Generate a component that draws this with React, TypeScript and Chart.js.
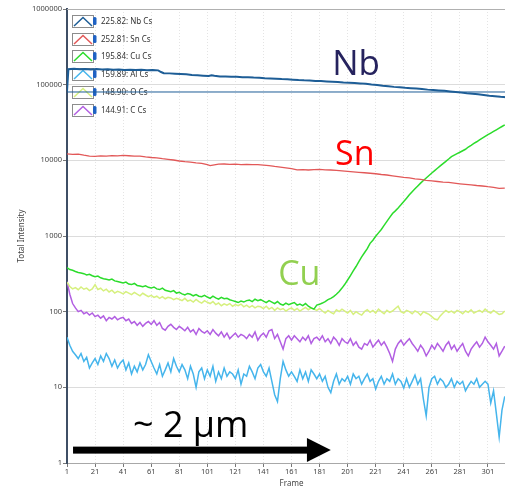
import React, { useEffect, useRef } from "react";
import { Chart, registerables } from "chart.js";
Chart.register(...registerables);

// ---------- DATA ----------
const FINE_START = 1;
const FINE_STEP = 2;

const CU_VALUES = [
  382, 360, 352, 340, 330, 325, 318, 305, 312, 298,
  290, 295, 280, 272, 268, 262, 270, 255, 250, 245,
  240, 246, 232, 228, 236, 222, 218, 214, 220, 210,
  205, 212, 200, 196, 205, 192, 188, 184, 190, 176,
  180, 172, 166, 174, 170, 162, 168, 160, 158, 164,
  156, 150, 160, 152, 146, 155, 148, 150, 144, 140,
  136, 132, 138, 134, 140, 142, 136, 146, 140, 144,
  138, 132, 140, 134, 128, 136, 126, 122, 130, 124,
  128, 132, 122, 126, 120, 128, 118, 112, 108, 122,
  125, 130, 136, 144, 150, 158, 170, 185, 205, 230,
  262, 300, 345, 395, 460, 530, 600, 680, 800, 880,
  990, 1100, 1220, 1380, 1560, 1760, 1980, 2150, 2350, 2580,
  2850, 3150, 3500, 3850, 4200, 4580, 5000, 5420, 5850, 6300,
  6800, 7300, 7850, 8450, 9050, 9700, 10400, 11200, 11700, 12250,
  12800, 13400, 14000, 15000, 15800, 16700, 17600, 18600, 19600, 20700,
  21800, 22900, 24100, 25300, 26600, 28000, 29500,
];

const O_VALUES = [
  245, 215, 200, 208, 195, 212, 198, 205, 190, 200,
  228, 196, 204, 188, 198, 182, 192, 176, 186, 180,
  172, 184, 176, 168, 180, 170, 162, 175, 166, 158,
  164, 154, 160, 150, 158, 148, 155, 152, 144, 150,
  146, 140, 150, 138, 142, 134, 145, 136, 130, 140,
  133, 128, 136, 124, 130, 120, 127, 122, 128, 118,
  124, 120, 126, 116, 122, 114, 120, 112, 118, 116,
  110, 118, 108, 114, 104, 112, 106, 110, 102, 108,
  112, 104, 110, 102, 108, 114, 106, 112, 108, 104,
  110, 102, 96, 104, 98, 94, 106, 100, 108, 102,
  96, 104, 92, 100, 94, 90, 100, 106, 98, 104,
  96, 108, 100, 94, 104, 98, 102, 110, 118, 100,
  96, 104, 100, 94, 102, 98, 90, 100, 96, 92,
  86, 80, 78, 88, 96, 104, 98, 102, 96, 104,
  100, 94, 102, 98, 106, 96, 100, 104, 98, 108,
  100, 96, 104, 98, 92, 94, 102,
];

const C_VALUES = [
  250, 170, 128, 112, 100, 104, 94, 98, 90, 96,
  86, 90, 82, 88, 76, 84, 80, 86, 78, 82,
  84, 76, 80, 70, 74, 66, 72, 64, 70, 74,
  68, 76, 66, 72, 60, 57, 64, 68, 62, 58,
  64, 60, 56, 62, 54, 58, 50, 60, 55, 52,
  56, 50, 58, 52, 48, 54, 46, 52, 44, 48,
  52, 46, 50, 48, 44, 50, 46, 54, 42, 48,
  52, 46, 56, 58, 44, 50, 40, 32, 44, 48,
  42, 48, 44, 40, 46, 42, 48, 38, 44, 46,
  42, 48, 40, 44, 38, 46, 42, 36, 44, 40,
  38, 44, 36, 40, 34, 32, 38, 36, 42, 34,
  38, 42, 36, 40, 34, 28, 22, 32, 38, 42,
  36, 40, 44, 38, 34, 30, 36, 32, 26, 30,
  36, 32, 38, 34, 30, 36, 40, 32, 36, 30,
  34, 38, 30, 26, 32, 36, 40, 34, 38, 46,
  40, 36, 32, 38, 26, 30, 35,
];

const AL_VALUES = [
  46, 36, 30, 27, 24, 28, 22, 25, 18, 21,
  24, 20, 26, 22, 28, 24, 19, 23, 18, 21,
  23, 17, 21, 15, 19, 16, 21, 17, 20, 27,
  22, 18, 15, 20, 14, 17, 21, 16, 24, 19,
  16, 20, 17, 13, 19, 15, 10, 16, 18, 13,
  17, 14, 19, 12, 16, 13, 18, 14, 16, 15,
  13, 17, 11, 15, 14, 19, 16, 13, 18, 20,
  16, 14, 18, 12, 8, 6.5, 13, 22, 17, 14,
  16, 14, 12, 17, 13, 16, 12, 17, 15, 13,
  15, 12, 14, 10, 8.5, 12, 15, 11, 13, 12,
  14, 11, 15, 13, 14, 11, 13, 15, 12, 13,
  9.5, 12, 14, 11, 13, 12, 15, 11, 13, 12,
  9.8, 13, 10, 12, 14.5, 11, 13, 7, 4.2, 10,
  13, 14, 11, 13, 12, 10, 11, 13, 10, 12,
  11, 12, 9, 10.5, 12, 11, 13, 10, 11, 12,
  11, 6.2, 9, 4.5, 2.2, 5, 7.6,
];

const FINE_FRAMES = CU_VALUES.map((_, i) => FINE_START + FINE_STEP * i);

const NB_FRAMES = [
  1, 2, 6, 10, 14, 18, 22, 26, 30, 34, 38, 42, 46, 50, 54, 58, 62, 66, 68, 70,
  74, 78, 82, 86, 90, 94, 98, 102, 104, 106,
  110, 114, 118, 122, 126, 130, 134, 138, 142, 146,
  150, 154, 158, 162, 166, 170, 174, 178, 182, 186,
  190, 194, 198, 202, 206, 210, 214, 218, 222, 226,
  230, 234, 238, 242, 246, 250, 254, 258, 262, 266,
  270, 274, 278, 282, 286, 290, 294, 298, 302, 306,
  310, 314,
];
const NB_VALUES = [
  82000, 160000, 162000, 160000, 161500, 159000, 160500, 158500, 160000, 157000, 158500, 156500, 157500, 156000, 157000, 155000, 156000, 154500, 147000, 142000,
  141000, 139500, 138500, 137000, 134500, 133000, 131500, 130500, 133500, 131000,
  128500, 128000, 127000, 127500, 125500, 125000, 124000, 123500, 122000, 121000,
  120000, 118500, 117500, 116500, 115000, 114000, 113500, 112000, 111500, 110500,
  109500, 108500, 107000, 106000, 105000, 104000, 102500, 100500, 99000, 97000,
  95500, 93500, 92500, 91000, 90000, 89000, 87500, 86000, 85000, 84000,
  83000, 81500, 80000, 78500, 77000, 76000, 74500, 73000, 71500, 70500,
  69000, 68000,
];

const SN_FRAMES = [
  1, 5, 9, 13, 17, 21, 25, 29, 33, 37, 41, 45, 49, 53, 57, 61, 65, 69, 73, 77,
  81, 85, 89, 93, 97, 101, 103, 105,
  109, 113, 117, 121, 125, 129, 133, 137, 141, 145,
  149, 153, 157, 161, 165, 169, 173, 177, 181, 185,
  189, 193, 197, 201, 205, 209, 213, 217, 221, 225,
  229, 233, 237, 241, 245, 249, 253, 257, 261, 265,
  269, 273, 277, 281, 285, 289, 293, 297, 301, 305,
  309, 313,
];
const SN_VALUES = [
  12150, 12000, 12100, 11700, 11400, 11300, 11450, 11400, 11550, 11450, 11600, 11500, 11400, 11350, 11100, 10900, 10800, 10500, 10300, 10100,
  9800, 9600, 9450, 9250, 9100, 8750, 8500, 8650,
  8900, 8950, 8850, 8900, 8800, 8850, 8750, 8800, 8650, 8500,
  8300, 8150, 7950, 7750, 7500, 7550, 7450, 7550, 7600, 7500,
  7450, 7350, 7250, 7150, 7050, 6950, 6850, 6750, 6650, 6500,
  6400, 6250, 6100, 5950, 5850, 5700, 5600, 5450, 5350, 5250,
  5150, 5100, 5000, 4900, 4820, 4750, 4650, 4580, 4480, 4400,
  4250, 4300,
];

const CURSOR_FRAMES = [1, 321];
const CURSOR_VALUES = [80000, 80000];

const X_TICKS = [1, 21, 41, 61, 81, 101, 121, 141, 161, 181, 201, 221, 241, 261, 281, 301];
const Y_TICKS = [1, 10, 100, 1000, 10000, 100000, 1000000];

const LEGEND_LABELS = ["225.82: Nb Cs", "252.81: Sn Cs", "195.84: Cu Cs", "159.89: Al Cs", "148.90: O Cs", "144.91: C Cs"];
const COLORS = { Nb: "#1d5d96", Sn: "#e25858", Cu: "#2bdc2b", Al: "#45b5ec", O: "#d6f07e", C: "#b25fe2" };
const LEGEND_COLORS = [COLORS.Nb, COLORS.Sn, COLORS.Cu, COLORS.Al, COLORS.O, COLORS.C];

// annotations in data coordinates (frame, intensity)
const LABEL_NB = { text: "Nb", frame: 190, value: 134000, color: "#26235e", size: 35 };
const LABEL_SN = { text: "Sn", frame: 192, value: 8700, color: "#ff0000", size: 34 };
const LABEL_CU = { text: "Cu", frame: 151.5, value: 225, color: "#92d050", size: 34 };
const LABEL_UM = { text: "~ 2 \u00b5m", frame: 48, value: 2.22, color: "#000000", size: 36 };
const ARROW = { fromFrame: 5.3, headFrame: 172, toFrame: 189, value: 1.48 };

const pts = (xs: number[], ys: number[]) => xs.map((x, i) => ({ x, y: ys[i] }));

const FONT = "'Noto Sans', 'Open Sans', sans-serif";

const decorPlugin = {
  id: "decor",
  beforeDatasetsDraw(chart: any) {
    const ctx = chart.ctx;
    const area = chart.chartArea;
    ctx.save();
    ctx.strokeStyle = "#b0b0b0";
    ctx.lineWidth = 1;
    ctx.beginPath();
    ctx.moveTo(area.left, area.top + 0.5);
    ctx.lineTo(area.right, area.top + 0.5);
    ctx.stroke();
    LEGEND_LABELS.forEach((label, i) => {
      const top = Math.round(15 + i * 17.7);
      const left = 72;
      ctx.fillStyle = "#ffffff";
      ctx.fillRect(left, top, 21, 12);
      ctx.strokeStyle = "#8c8c8c";
      ctx.lineWidth = 1;
      ctx.strokeRect(left + 0.5, top + 0.5, 21, 12);
      ctx.strokeStyle = LEGEND_COLORS[i];
      ctx.lineWidth = 1.5;
      ctx.beginPath();
      ctx.moveTo(left + 2, top + 11);
      ctx.lineTo(left + 11, top + 2.5);
      ctx.lineTo(left + 20, top + 11);
      ctx.stroke();
      ctx.fillStyle = "#1f62c4";
      ctx.beginPath();
      if (ctx.roundRect) ctx.roundRect(left + 21, top + 2, 3.5, 8, 1.5);
      else ctx.rect(left + 21, top + 2, 3.5, 8);
      ctx.fill();
      ctx.fillStyle = "#333333";
      ctx.font = `8px ${FONT}`;
      ctx.textAlign = "left";
      ctx.textBaseline = "middle";
      ctx.fillText(label, 101, top + 7);
    });
    ctx.restore();
  },
  afterDraw(chart: any) {
    const ctx = chart.ctx;
    const xs = chart.scales.x;
    const ys = chart.scales.y;
    ctx.save();
    [LABEL_NB, LABEL_SN, LABEL_CU, LABEL_UM].forEach((l) => {
      ctx.fillStyle = l.color;
      ctx.font = `${l.size}px 'Open Sans', 'Noto Sans', sans-serif`;
      ctx.textAlign = "left";
      ctx.textBaseline = "alphabetic";
      ctx.fillText(l.text, xs.getPixelForValue(l.frame), ys.getPixelForValue(l.value));
    });
    const x0 = xs.getPixelForValue(ARROW.fromFrame);
    const xh = xs.getPixelForValue(ARROW.headFrame);
    const x1 = xs.getPixelForValue(ARROW.toFrame);
    const y = ys.getPixelForValue(ARROW.value);
    ctx.fillStyle = "#000000";
    ctx.fillRect(x0, y - 3.5, xh - x0 + 1, 7);
    ctx.beginPath();
    ctx.moveTo(xh, y - 12);
    ctx.lineTo(x1, y);
    ctx.lineTo(xh, y + 12);
    ctx.closePath();
    ctx.fill();
    ctx.restore();
  },
};

export default function App() {
  const ref = useRef<HTMLCanvasElement | null>(null);
  useEffect(() => {
    if (!ref.current) return;
    const line = (label: string, data: any[], color: string, width = 1.5) => ({
      label,
      data,
      borderColor: color,
      backgroundColor: color,
      borderWidth: width,
      pointRadius: 0,
      tension: 0,
      fill: false,
    });
    const chart = new Chart(ref.current, {
      type: "line",
      data: {
        datasets: [
          line("225.82: Nb Cs", pts(NB_FRAMES, NB_VALUES), COLORS.Nb, 2),
          line("cursor", pts(CURSOR_FRAMES, CURSOR_VALUES), COLORS.Nb, 1),
          line("252.81: Sn Cs", pts(SN_FRAMES, SN_VALUES), COLORS.Sn, 1.3),
          line("195.84: Cu Cs", pts(FINE_FRAMES, CU_VALUES), COLORS.Cu, 1.5),
          line("159.89: Al Cs", pts(FINE_FRAMES, AL_VALUES), COLORS.Al, 1.5),
          line("148.90: O Cs", pts(FINE_FRAMES, O_VALUES), COLORS.O, 1.5),
          line("144.91: C Cs", pts(FINE_FRAMES, C_VALUES), COLORS.C, 1.5),
        ],
      },
      options: {
        animation: false,
        responsive: false,
        devicePixelRatio: 1,
        layout: { padding: { top: 9, left: 0, right: 0, bottom: 0 } },
        plugins: { legend: { display: false }, tooltip: { enabled: false } },
        scales: {
          x: {
            type: "linear",
            min: 1,
            max: 321,
            afterBuildTicks: (s: any) => {
              s.ticks = X_TICKS.map((v) => ({ value: v }));
            },
            afterFit: (s: any) => {
              s.height = 29;
            },
            ticks: {
              autoSkip: false,
              maxRotation: 0,
              padding: 0,
              color: "#444",
              font: { family: FONT, size: 7.5 },
              callback: (v: any) => String(v),
            },
            grid: { color: "#e4e4e4", lineWidth: 1, tickLength: 4, tickColor: "#777", tickBorderDash: [] },
            border: { display: true, color: "#a8a8a8", width: 1, dash: [1, 2] },
            title: { display: true, text: "Frame", color: "#444", font: { family: FONT, size: 8 }, padding: { top: 0, bottom: 3 } },
          },
          y: {
            type: "logarithmic",
            min: 1,
            max: 1000000,
            afterBuildTicks: (s: any) => {
              s.ticks = Y_TICKS.map((v) => ({ value: v }));
            },
            afterFit: (s: any) => {
              s.width = 67;
            },
            ticks: {
              padding: 1,
              color: "#444",
              font: { family: FONT, size: 7.5 },
              callback: (v: any) => String(v),
            },
            grid: { color: "#dcdcdc", lineWidth: 1, tickLength: 4, tickColor: "#777" },
            border: { display: true, color: "#3f4f65", width: 2 },
            title: { display: true, text: "Total Intensity", color: "#444", font: { family: FONT, size: 8 }, padding: { top: 17, bottom: 0 } },
          },
        },
      },
      plugins: [decorPlugin],
    } as any);
    return () => chart.destroy();
  }, []);
  return (
    <div style={{ position: "fixed", left: 0, top: 0, width: 505, height: 492, overflow: "hidden", background: "#fff" }}>
      <canvas ref={ref} width={516} height={492} style={{ display: "block", width: 516, height: 492 }} />
    </div>
  );
}
